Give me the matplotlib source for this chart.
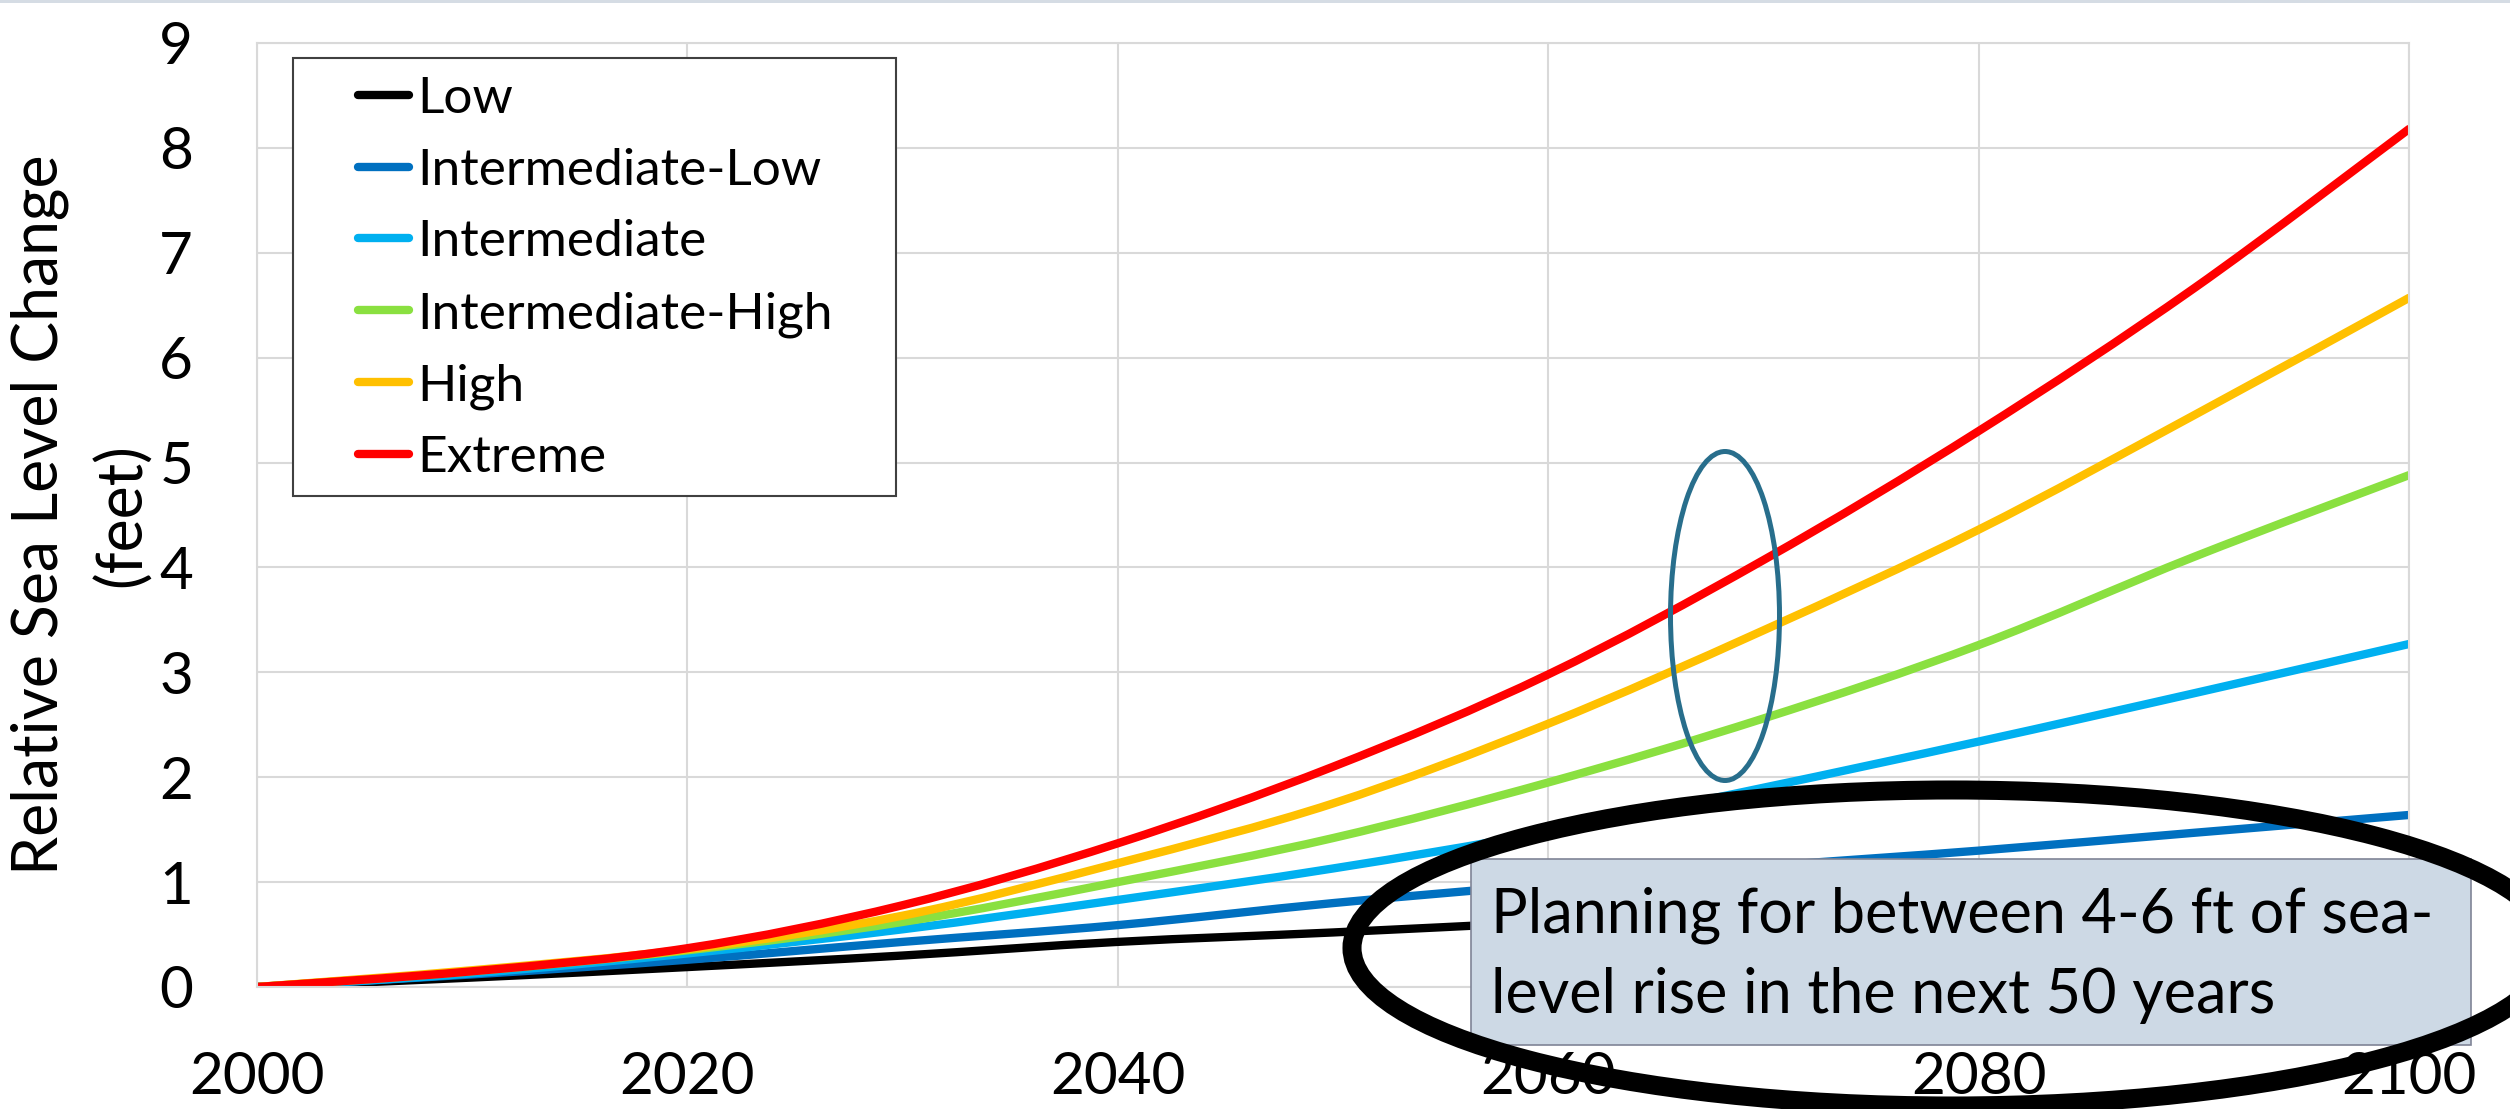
import matplotlib
matplotlib.use('Agg')
import matplotlib.pyplot as plt
from matplotlib.patches import Ellipse, Rectangle, PathPatch
from matplotlib.path import Path
from matplotlib.lines import Line2D

# ---- data (feet) ----
years = [2000, 2010, 2020, 2030, 2040, 2050, 2060, 2070, 2080, 2090, 2100]
low = [0, 0.09, 0.19, 0.30, 0.43, 0.52, 0.62, 0.72, 0.82, 0.92, 0.98]
int_low = [0, 0.12, 0.26, 0.43, 0.59, 0.80, 0.98, 1.15, 1.30, 1.47, 1.64]
intermediate = [0, 0.13, 0.32, 0.55, 0.83, 1.13, 1.48, 1.90, 2.34, 2.80, 3.27]
int_high = [0, 0.15, 0.35, 0.62, 1.00, 1.42, 1.95, 2.56, 3.26, 4.10, 4.88]
high = [0, 0.16, 0.36, 0.68, 1.18, 1.75, 2.51, 3.40, 4.36, 5.45, 6.57]
extreme = [0, 0.15, 0.37, 0.78, 1.37, 2.10, 2.98, 4.07, 5.30, 6.66, 8.18]

series_names = ["Low", "Intermediate-Low", "Intermediate",
                "Intermediate-High", "High", "Extreme"]
series_values = [low, int_low, intermediate, int_high, high, extreme]
series_colors = ["#000000", "#0070C0", "#00B0F0", "#8AE040", "#FFC000", "#FF0000"]

x_ticks = [2000, 2020, 2040, 2060, 2080, 2100]
y_ticks = list(range(0, 10))

ylabel_line1 = "Relative Sea Level Change"
ylabel_line2 = "(feet)"
note_line1 = "Planning for between 4-6 ft of sea-"
note_line2 = "level rise in the next 50 years"

plt.rcParams['font.family'] = ['Lato', 'DejaVu Sans']

W, H = 2510, 1109
fig = plt.figure(figsize=(W / 100, H / 100), dpi=100)
fig.patch.set_facecolor('white')


def fx(px):
    return px / W


def fy(py):
    return 1 - py / H


def smooth_path(xs, ys):
    """Excel-style smoothed line: cubic Bezier segments through the data points."""
    n = len(xs)
    verts = [(xs[0], ys[0])]
    codes = [Path.MOVETO]
    for i in range(n - 1):
        i0 = max(i - 1, 0)
        i3 = min(i + 2, n - 1)
        c1 = (xs[i] + (xs[i + 1] - xs[i0]) / 6.0, ys[i] + (ys[i + 1] - ys[i0]) / 6.0)
        c2 = (xs[i + 1] - (xs[i3] - xs[i]) / 6.0, ys[i + 1] - (ys[i3] - ys[i]) / 6.0)
        verts += [c1, c2, (xs[i + 1], ys[i + 1])]
        codes += [Path.CURVE4, Path.CURVE4, Path.CURVE4]
    return Path(verts, codes)


ax = fig.add_axes([fx(257), fy(987), fx(2409) - fx(257), fy(43) - fy(987)])
ax.set_xlim(2000, 2100)
ax.set_ylim(0, 9)
ax.set_xticks(x_ticks)
ax.set_yticks(y_ticks)
ax.grid(True, color='#D9D9D9', lw=1.5)
ax.set_axisbelow(True)
for sp in ax.spines.values():
    sp.set_color('#D9D9D9')
    sp.set_linewidth(1.5)
ax.tick_params(length=0, labelsize=42, colors='black')
ax.tick_params(axis='x', pad=46)
ax.tick_params(axis='y', pad=46)

LW = 6
handles = []
for name, vals, col in zip(series_names, series_values, series_colors):
    patch = PathPatch(smooth_path(years, vals), facecolor='none', edgecolor=col,
                      lw=LW, capstyle='round', joinstyle='round', zorder=2)
    ax.add_patch(patch)
    handles.append(Line2D([0], [0], color=col, lw=LW, label=name,
                          solid_capstyle='round'))

# legend box (white, dark border)
ax.add_patch(Rectangle((fx(293), fy(496)), fx(896) - fx(293), fy(58) - fy(496),
                       transform=fig.transFigure, facecolor='white',
                       edgecolor='#404040', lw=1.5, zorder=4.5, clip_on=False))
leg = ax.legend(handles=handles, loc='upper left', frameon=False,
                bbox_to_anchor=(fx(358), fy(76)), bbox_transform=fig.transFigure,
                borderpad=0, borderaxespad=0, fontsize=37,
                handlelength=1.0, handletextpad=0.15, labelspacing=0.50)
leg.set_zorder(5)

# y-axis label (two centred lines)
fig.text(fx(40), fy(515), ylabel_line1, rotation=90, ha='center', va='center',
         fontsize=45)
fig.text(fx(122), fy(515), ylabel_line2, rotation=90, ha='center', va='center',
         fontsize=45)

# blue ellipse highlight
fig.patches.append(Ellipse((fx(1725), fy(616)), fx(109), 329 / H,
                           transform=fig.transFigure, fill=False,
                           edgecolor='#286E8C', lw=3.6, zorder=2))

# note box
fig.patches.append(Rectangle((fx(1471), fy(1045)), fx(2471) - fx(1471),
                             fy(859) - fy(1045), transform=fig.transFigure,
                             facecolor='#CDD9E5', edgecolor='#7F8496', lw=1.2,
                             zorder=3))
fig.text(fx(1491), fy(932), note_line1, va='baseline', ha='left', fontsize=44,
         zorder=4)
fig.text(fx(1491), fy(1013), note_line2, va='baseline', ha='left', fontsize=44,
         zorder=4)

# big black ellipse
fig.patches.append(Ellipse((fx(1952), fy(948)), fx(1200), 316 / H,
                           transform=fig.transFigure, fill=False,
                           edgecolor='black', lw=13.7, zorder=6))

# thin top border
fig.patches.append(Rectangle((0, fy(3)), 1, 3 / H, transform=fig.transFigure,
                             facecolor='#D5DCE4', edgecolor='none', zorder=1))

fig.savefig('out.png', dpi=100)
